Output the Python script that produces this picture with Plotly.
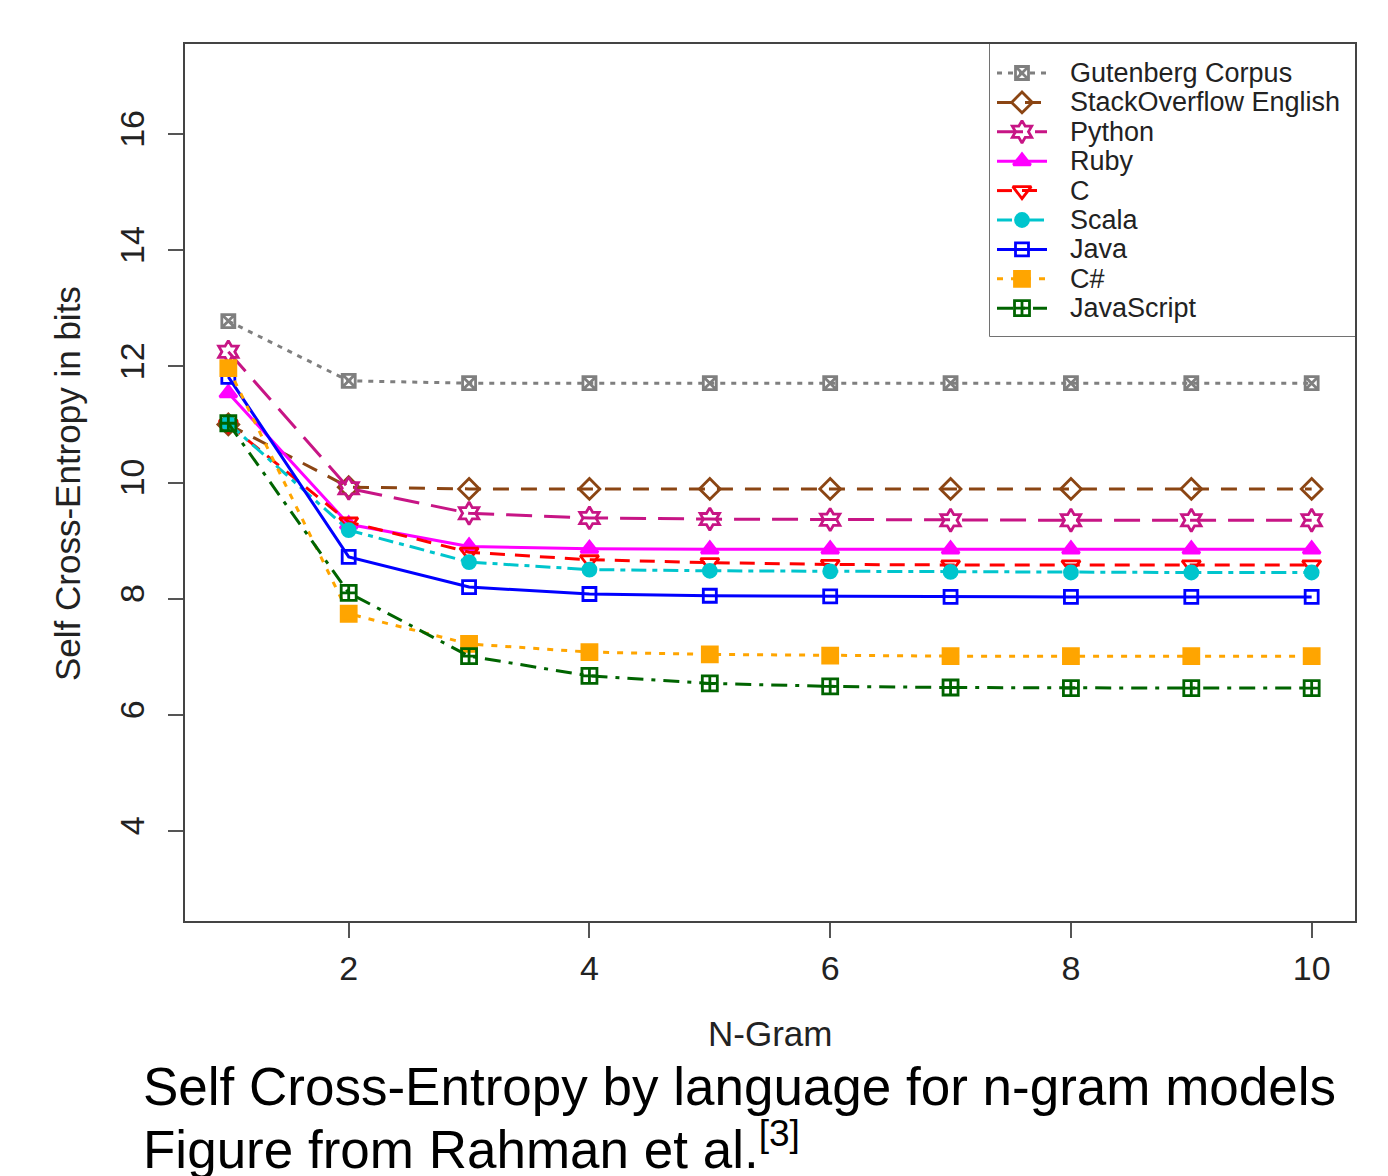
import plotly.graph_objects as go

# ---------------- data ----------------
ngram = [1, 2, 3, 4, 5, 6, 7, 8, 9, 10]

series_names = ["Gutenberg Corpus", "StackOverflow English", "Python", "Ruby", "C",
                "Scala", "Java", "C#", "JavaScript"]

gutenberg = [12.78, 11.75, 11.71, 11.71, 11.71, 11.71, 11.71, 11.71, 11.71, 11.71]
stackoverflow = [11.00, 9.92, 9.89, 9.89, 9.89, 9.89, 9.89, 9.89, 9.89, 9.89]
python = [12.25, 9.90, 9.47, 9.39, 9.37, 9.36, 9.35, 9.35, 9.35, 9.35]
ruby = [11.54, 9.28, 8.90, 8.86, 8.85, 8.85, 8.85, 8.85, 8.85, 8.85]
c_lang = [11.00, 9.32, 8.80, 8.67, 8.62, 8.59, 8.58, 8.58, 8.58, 8.58]
scala = [11.02, 9.18, 8.63, 8.50, 8.48, 8.47, 8.46, 8.45, 8.45, 8.45]
java = [11.82, 8.72, 8.20, 8.08, 8.05, 8.04, 8.03, 8.03, 8.03, 8.03]
csharp = [11.97, 7.74, 7.22, 7.08, 7.04, 7.02, 7.01, 7.01, 7.01, 7.01]
javascript = [11.02, 8.10, 7.01, 6.67, 6.54, 6.49, 6.47, 6.46, 6.46, 6.46]

series_values = [gutenberg, stackoverflow, python, ruby, c_lang, scala, java, csharp, javascript]

x_ticks = [2, 4, 6, 8, 10]
y_ticks = [4, 6, 8, 10, 12, 14, 16]

# ---------------- styles ----------------
colors = ["#7f7f7f", "#8b4513", "#c71585", "#ff00ff", "#ff0000",
          "#00c5cd", "#0000ff", "#ffa500", "#006400"]
dashes = ["5px,6px", "16px,12px", "26px,12px", "solid", "15px,10px",
          "15px,6px,5px,6px", "solid", "6px,8px", "16px,8px,4px,8px"]
symbols = ["square-x-open", "diamond-open", "hexagram-open", "triangle-up", "triangle-down-open",
           "circle", "square-open", "square", "square-cross-open"]
msizes = [13, 16, 17, 15, 16, 13, 13, 15, 15]

FONT = "Liberation Sans, Arial, Helvetica, sans-serif"
OFF = 8  # page body margin of the browser
W, H = 1388, 1176
L, R, T, B = 185 - OFF, 33 + OFF, 44 - OFF, 255 + OFF
PW, PH = W - L - R, H - T - B


def px_x(px):
    return (px - OFF - L) / PW


def px_y(py):
    return (H - B - (py - OFF)) / PH


fig = go.Figure()

for name, vals, col, dsh, sym, ms in zip(series_names, series_values, colors, dashes, symbols, msizes):
    fig.add_trace(go.Scatter(
        x=ngram, y=vals, mode="lines+markers", name=name, showlegend=False,
        line=dict(color=col, width=3, dash=dsh),
        marker=dict(symbol=sym, size=ms, color=col, line=dict(color=col, width=2.8)),
        xaxis="x", yaxis="y",
    ))

# ---------------- manual R-style legend ----------------
leg_x0, leg_x1, leg_y0, leg_y1 = 990, 1355, 44, 336
row0, row_step = 73, 29.4
for i, (name, col, dsh, sym, ms) in enumerate(zip(series_names, colors, dashes, symbols, msizes)):
    ry = row0 + i * row_step
    fig.add_trace(go.Scatter(
        x=[997, 1047], y=[ry, ry], mode="lines", showlegend=False, hoverinfo="skip",
        line=dict(color=col, width=3, dash=dsh), xaxis="x2", yaxis="y2",
    ))
    fig.add_trace(go.Scatter(
        x=[1022], y=[ry], mode="markers", showlegend=False, hoverinfo="skip",
        marker=dict(symbol=sym, size=ms, color=col, line=dict(color=col, width=2.8)),
        xaxis="x2", yaxis="y2",
    ))
    fig.add_annotation(x=1068, y=ry, xref="x2", yref="y2", text=name, showarrow=False,
                       xanchor="left", yanchor="middle",
                       font=dict(family=FONT, size=27, color="#222222"))

fig.add_shape(type="rect", xref="paper", yref="paper",
              x0=px_x(leg_x0), x1=px_x(leg_x1), y0=px_y(leg_y1), y1=px_y(leg_y0),
              line=dict(color="#444444", width=1.5), fillcolor="white", layer="below")

# ---------------- axis titles & caption ----------------
fig.add_annotation(x=px_x(68), y=px_y(484), xref="paper", yref="paper",
                   text="Self Cross-Entropy in bits", textangle=-90, showarrow=False,
                   xanchor="center", yanchor="middle",
                   font=dict(family=FONT, size=35, color="#222222"))
fig.add_annotation(x=px_x(770), y=px_y(1033), xref="paper", yref="paper",
                   text="N-Gram", showarrow=False, xanchor="center", yanchor="middle",
                   font=dict(family=FONT, size=35, color="#222222"))
fig.add_annotation(x=px_x(141), y=px_y(1086), xref="paper", yref="paper",
                   text="Self Cross-Entropy by language for n-gram models", showarrow=False,
                   xanchor="left", yanchor="middle",
                   font=dict(family=FONT, size=53, color="#000000"))
fig.add_annotation(x=px_x(141), y=px_y(1145), xref="paper", yref="paper",
                   text="Figure from Rahman et al.<sup>[3]</sup>", showarrow=False,
                   xanchor="left", yanchor="middle",
                   font=dict(family=FONT, size=53, color="#000000"))

fig.update_layout(
    width=W, height=H,
    margin=dict(l=L, r=R, t=T, b=B, autoexpand=False),
    paper_bgcolor="white", plot_bgcolor="white",
    font=dict(family=FONT, color="#222222"),
    showlegend=False,
    xaxis=dict(
        range=[0.64, 10.36], tickvals=x_ticks, ticktext=[str(v) for v in x_ticks],
        ticks="outside", ticklen=15, tickwidth=1.5, tickcolor="#555555",
        showgrid=False, zeroline=False, showline=True, mirror=True,
        linecolor="#444444", linewidth=2,
        tickfont=dict(family=FONT, size=34, color="#222222"),
        ticklabelstandoff=1,
    ),
    yaxis=dict(
        range=[2.45, 17.55], tickvals=y_ticks, ticktext=[str(v) for v in y_ticks],
        ticks="outside", ticklen=15, tickwidth=1.5, tickcolor="#555555",
        showgrid=False, zeroline=False, showline=True, mirror=True,
        linecolor="#444444", linewidth=2, tickangle=-90,
        tickfont=dict(family=FONT, size=34, color="#222222"),
        ticklabelstandoff=10,
    ),
    xaxis2=dict(domain=[px_x(leg_x0), px_x(leg_x1)], range=[leg_x0, leg_x1], anchor="y2",
                visible=False, fixedrange=True),
    yaxis2=dict(domain=[px_y(leg_y1), px_y(leg_y0)], range=[leg_y1, leg_y0], anchor="x2",
                visible=False, fixedrange=True),
)

fig.write_html("out.html")
